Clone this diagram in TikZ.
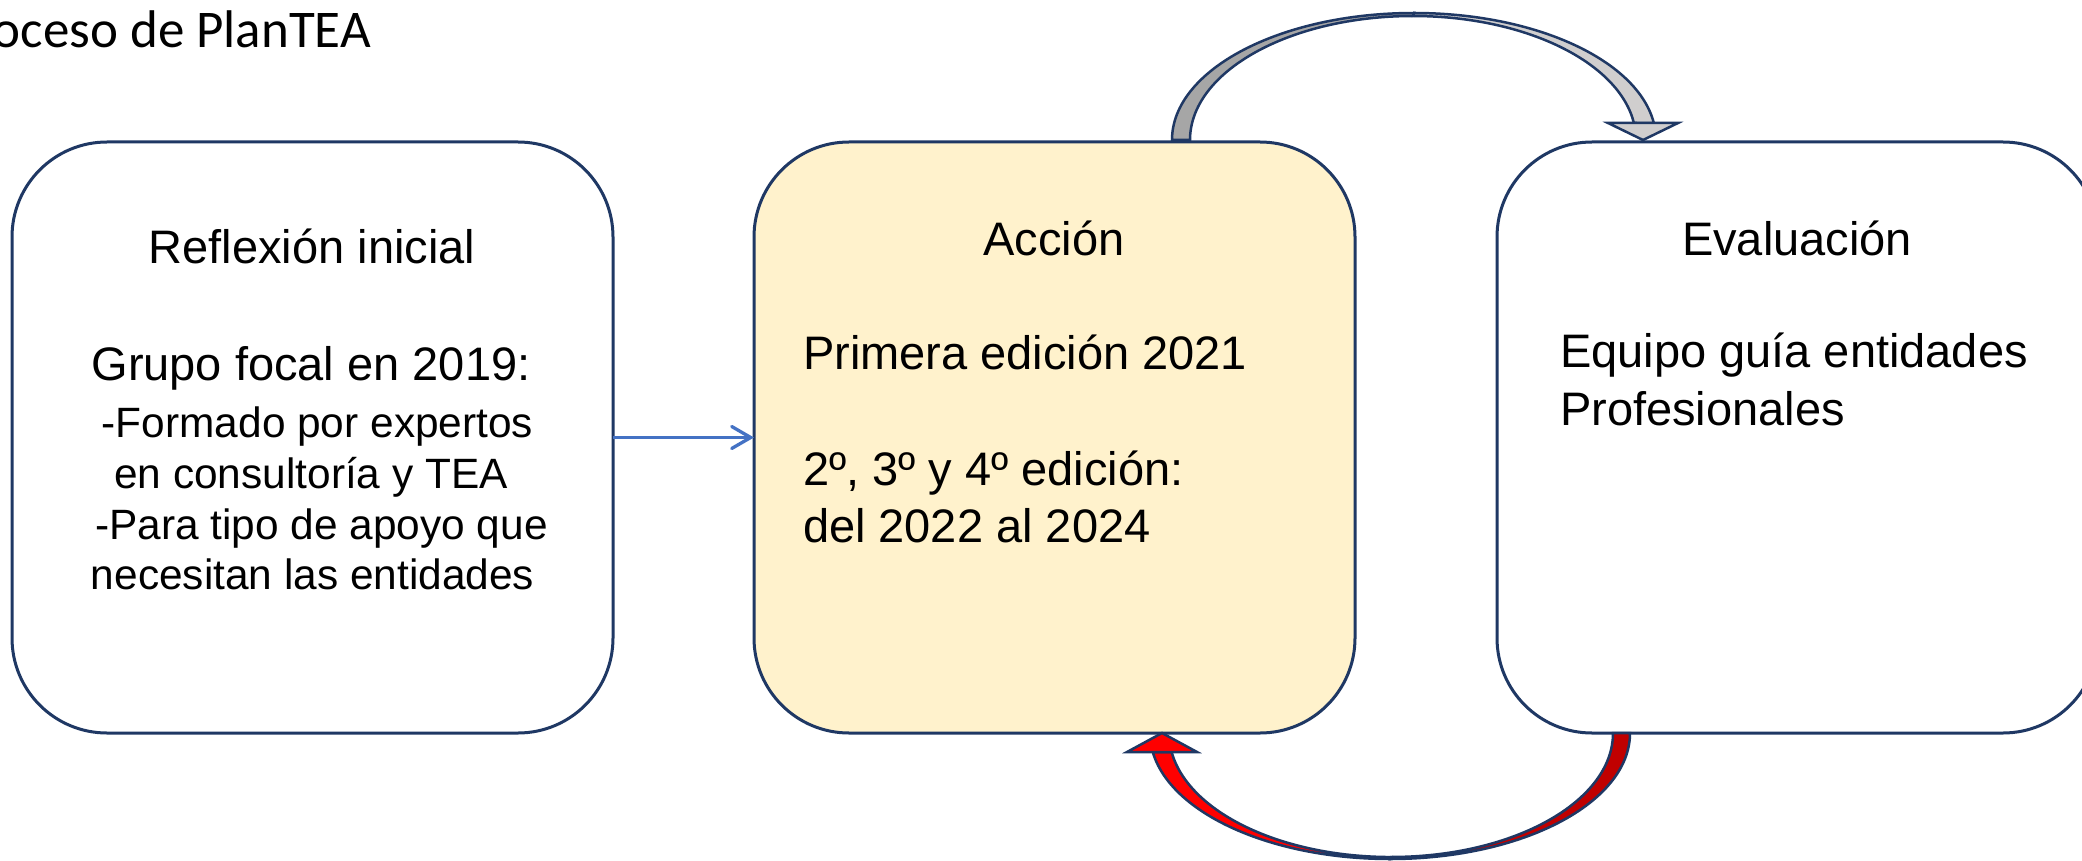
\documentclass[tikz,border=0pt]{standalone}
\usepackage{fontspec}
\usetikzlibrary{arrows.meta}
\newfontfamily\arialf{Liberation Sans}
\newfontfamily\calibrif{Carlito}
\definecolor{boxline}{HTML}{1F3864}
\definecolor{accfill}{HTML}{FFF2CC}
\definecolor{bluel}{HTML}{4472C4}
\definecolor{gdark}{HTML}{A6A6A6}
\definecolor{glight}{HTML}{D0CECE}
\definecolor{rlight}{HTML}{FF0000}
\definecolor{rdark}{HTML}{C00000}
\begin{document}
\begin{tikzpicture}[x=1pt,y=-1pt,
  procbox/.style={draw=boxline, line width=3pt, rounded corners=95pt,
    minimum width=601pt, minimum height=591pt, inner sep=0pt, outer sep=0pt},
  bigtxt/.style={inner sep=0pt, outer sep=0pt, font=\arialf\fontsize{47}{57}\selectfont},
  smalltxt/.style={inner sep=0pt, outer sep=0pt, font=\arialf\fontsize{42.4}{50}\selectfont},
  titletxt/.style={inner sep=0pt, outer sep=0pt, font=\calibrif\fontsize{53}{60}\selectfont},
  blockline/.style={draw=boxline, line width=2.5pt, line join=miter},
  bluearr/.style={draw=bluel, line width=3.3pt, -{Straight Barb[length=19pt,width=22pt,line cap=round]}}
]
\useasboundingbox (0,0) rectangle (2082,861);
\fill[white] (0,0) rectangle (2082,861);

% title
\node[titletxt, anchor=base east] (title) at (371,48) {oceso de PlanTEA};

% boxes
\node[procbox, fill=white] (b1) at (312.5,437.5) {};
\node[procbox, fill=accfill] (b2) at (1054.5,437.5) {};
\node[procbox, fill=white] (b3) at (1797.5,437.5) {};

% box 1 texts
\node[bigtxt, anchor=base] (t1a) at (312,263) {Reflexión inicial};
\node[bigtxt, anchor=base] (t1b) at (311,380) {Grupo focal en 2019:};
\node[smalltxt, anchor=base] (t1c) at (317.5,437) {-Formado por expertos};
\node[smalltxt, anchor=base] (t1d) at (311,488) {en consultoría y TEA};
\node[smalltxt, anchor=base] (t1e) at (321.5,539) {-Para tipo de apoyo que};
\node[smalltxt, anchor=base] (t1f) at (312.5,589) {necesitan las entidades};

% box 2 texts
\node[bigtxt, anchor=base] (t2a) at (1054,255) {Acción};
\node[bigtxt, anchor=base west] (t2b) at (803,369) {Primera edición 2021};
\node[bigtxt, anchor=base west] (t2c) at (803,485) {2º, 3º y 4º edición:};
\node[bigtxt, anchor=base west] (t2d) at (803,542) {del 2022 al 2024};

% box 3 texts
\node[bigtxt, anchor=base] (t3a) at (1797,255) {Evaluación};
\node[bigtxt, anchor=base west] (t3b) at (1560,367) {Equipo guía entidades};
\node[bigtxt, anchor=base west] (t3c) at (1560,425) {Profesionales};

% blue connector
\draw[bluearr] (b1) -- (b2);

% top curved block arrow (Acción -> Evaluación)
\coordinate (gfootL) at (1172,140);
\coordinate (gtopO) at (1414,13);
\coordinate (gtopI) at (1413,16);
\coordinate (gshaftO) at (1653.8,123);
\coordinate (gshaftI) at (1633.9,123);
\path[blockline, fill=gdark] (gfootL)
  arc[start angle=180, end angle=90, x radius=242pt, y radius=127pt]
  -- (gtopI)
  arc[start angle=90, end angle=180, x radius=223pt, y radius=124pt]
  -- cycle;
\path[blockline, fill=glight] (gtopO)
  arc[start angle=90, end angle=7.69, x radius=242pt, y radius=127pt]
  -- (gshaftI)
  arc[start angle=7.88, end angle=90, x radius=223pt, y radius=124pt]
  -- cycle;
\path[blockline, fill=glight] (1608,123) -- (1678,123) -- (1643,140) -- cycle;

% bottom curved block arrow (Evaluación -> Acción)
\coordinate (rfootR) at (1630,733);
\coordinate (rbotO) at (1390,859);
\coordinate (rbotI) at (1391,857);
\coordinate (rshaftO) at (1152.8,752);
\coordinate (rshaftI) at (1171.6,752);
\path[blockline, fill=rdark] (rfootR)
  arc[start angle=0, end angle=-90, x radius=240pt, y radius=126pt]
  -- (rbotI)
  arc[start angle=-90, end angle=0, x radius=222pt, y radius=124pt]
  -- cycle;
\path[blockline, fill=rlight] (rbotO)
  arc[start angle=-90, end angle=-171.3, x radius=240pt, y radius=126pt]
  -- (rshaftI)
  arc[start angle=-171.2, end angle=-90, x radius=222pt, y radius=124pt]
  -- cycle;
\path[blockline, fill=rlight] (1127,752) -- (1197,752) -- (1162,733) -- cycle;
\end{tikzpicture}
\end{document}
